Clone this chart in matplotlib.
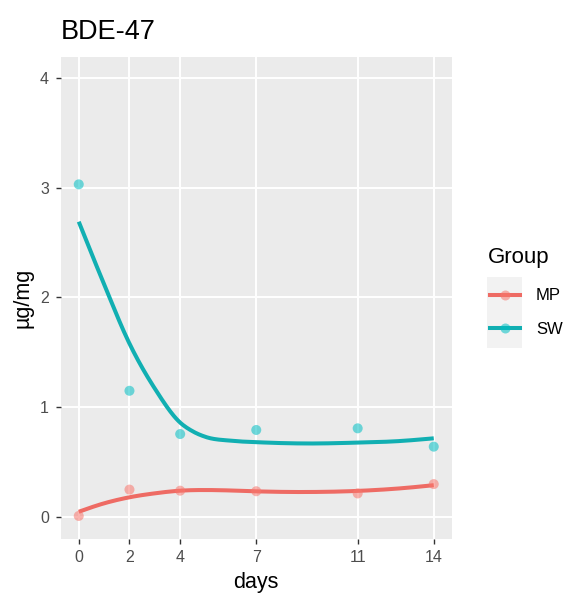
import numpy as np
import matplotlib
matplotlib.use("Agg")
import matplotlib.pyplot as plt
from matplotlib.patches import Rectangle
from matplotlib.lines import Line2D

plt.rcParams['font.family'] = ['Liberation Sans', 'DejaVu Sans']

# ---- data ----
days = [0, 2, 4, 7, 11, 14]
mp_values = [0.01, 0.25, 0.24, 0.235, 0.215, 0.30]
sw_values = [3.03, 1.15, 0.756, 0.793, 0.808, 0.641]

# smoothed (loess) curves
fit_days = [0, 1, 2, 3, 4, 4.5, 5, 6, 7, 9, 11, 12.5, 14]
mp_fit = [0.048, 0.125, 0.18, 0.216, 0.24, 0.245, 0.246, 0.242, 0.234, 0.228, 0.238, 0.258, 0.29]
sw_fit = [2.69, 2.12, 1.58, 1.17, 0.86, 0.78, 0.73, 0.695, 0.682, 0.67, 0.678, 0.69, 0.717]

groups = ["MP", "SW"]
colors = {"MP": "#F8766D", "SW": "#00BFC4"}
line_colors = {"MP": "#EE6B64", "SW": "#11AFB2"}
xticks = [0, 2, 4, 7, 11, 14]
yticks = [0, 1, 2, 3, 4]


def hermite(x, y, xs):
    """Cubic Hermite curve with three-point (non-uniform) slopes."""
    x = np.asarray(x, float); y = np.asarray(y, float)
    h = np.diff(x); d = np.diff(y) / h
    m = np.zeros_like(y)
    for k in range(1, len(x) - 1):
        m[k] = (h[k] * d[k - 1] + h[k - 1] * d[k]) / (h[k - 1] + h[k])
    m[0] = 1.5 * d[0] - 0.5 * m[1]
    m[-1] = 1.5 * d[-1] - 0.5 * m[-2]
    out = np.empty_like(xs)
    for i, xv in enumerate(xs):
        k = min(np.searchsorted(x, xv, side='right') - 1, len(x) - 2)
        t = (xv - x[k]) / h[k]
        h00 = 2 * t**3 - 3 * t**2 + 1; h10 = t**3 - 2 * t**2 + t
        h01 = -2 * t**3 + 3 * t**2; h11 = t**3 - t**2
        out[i] = h00 * y[k] + h10 * h[k] * m[k] + h01 * y[k + 1] + h11 * h[k] * m[k + 1]
    return out


W, H = 565, 593
fig = plt.figure(figsize=(W / 100, H / 100), dpi=100)
ax = fig.add_axes([61 / W, 1 - 539 / H, (451.5 - 61) / W, (539 - 57) / H])
ax.set_facecolor("#EBEBEB")
for s in ax.spines.values():
    s.set_visible(False)

xs = np.linspace(0, 14, 300)
for g, vals, fit in [("MP", mp_values, mp_fit), ("SW", sw_values, sw_fit)]:
    ax.plot(xs, hermite(fit_days, fit, xs), color=line_colors[g], lw=2.9, zorder=3,
            solid_capstyle='butt')
    ax.scatter(days, vals, s=52, color=colors[g], alpha=0.55, edgecolors='none', zorder=4)

ax.set_xlim(-0.7, 14.7)
ax.set_ylim(-0.2, 4.19)
ax.set_xticks(xticks)
ax.set_yticks(yticks)
ax.grid(True, color="white", lw=1.4)
ax.set_axisbelow(True)
ax.tick_params(axis='both', length=3.6, width=1.0, color="#333333",
               labelcolor="#4D4D4D", labelsize=11.5)
ax.tick_params(axis='x', pad=4.0)
ax.tick_params(axis='y', pad=5.0)
ax.set_xlabel("days", fontsize=15.5, labelpad=5.5)
ax.set_ylabel("µg/mg", fontsize=15.5, labelpad=5)
fig.text(61 / W, 1 - 39 / H, "BDE-47", fontsize=19.5, ha='left', va='baseline')

# legend (drawn in pixel coordinates)
lax = fig.add_axes([0, 0, 1, 1], zorder=5)
lax.set_xlim(0, W); lax.set_ylim(H, 0); lax.axis('off')
lax.text(488, 258, "Group", fontsize=16, ha='left', va='center')
lax.add_patch(Rectangle((487, 277), 35, 71, facecolor="#F2F2F2", edgecolor='none'))
for i, g in enumerate(groups):
    yy = 295 + i * 33
    lax.add_line(Line2D([490, 520], [yy, yy], color=line_colors[g], lw=2.9))
    lax.plot([505], [yy], 'o', ms=7.2, color=colors[g], alpha=0.55, mec='none')
    lax.text(536, yy + 1, g, fontsize=12, ha='left', va='center')

fig.savefig("out.png", dpi=100)
